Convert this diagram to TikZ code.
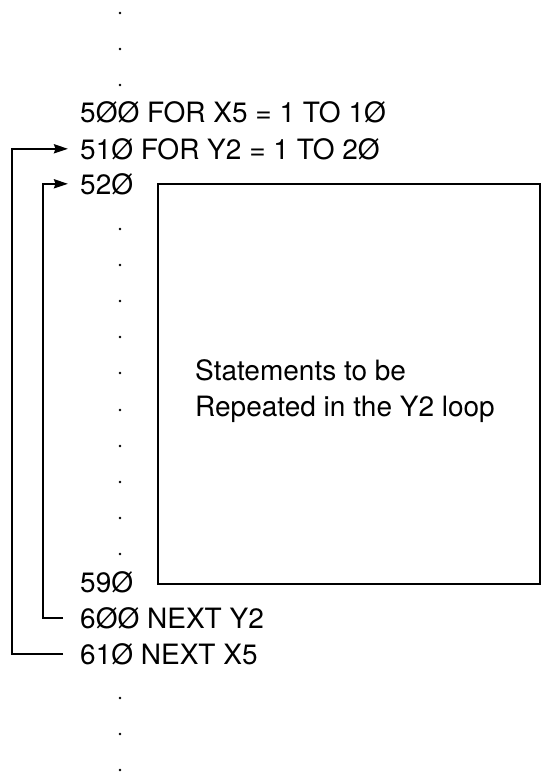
\documentclass[tikz,border=0pt]{standalone}
\usepackage{fontspec}
\setmainfont{TeX Gyre Heros}
\usetikzlibrary{arrows.meta}
\begin{document}
\begin{tikzpicture}[x=1pt,y=-1pt,
  line/.style={line width=2pt},
  code/.style={anchor=base west, inner sep=0pt, font=\fontsize{28}{32}\selectfont},
  arr/.style={line, -{Stealth[length=14pt,width=9pt,inset=1.5pt]}}]
\useasboundingbox (0,0) rectangle (543,772);
% code lines
\node[code] (l500) at (80,122) {5ØØ FOR X5 = 1 TO 1Ø};
\node[code] (l510) at (80,159) {51Ø FOR Y2 = 1 TO 2Ø};
\node[code] (l520) at (80,194) {52Ø};
\node[code] (l590) at (80,592) {59Ø};
\node[code] (l600) at (80,628) {6ØØ NEXT Y2};
\node[code] (l610) at (80,664) {61Ø NEXT X5};
% box with the repeated statements
\node[draw, line, minimum width=382pt, minimum height=400pt, anchor=north west, inner sep=0pt] (box) at (157,183) {};
\node[code] (s1) at (195,380) {Statements to be};
\node[code] (s2) at (195,416) {Repeated in the Y2 loop};
% ellipsis dots
\foreach \y in {13,49,85,229,265,301,337,373,410,446,482,518,554,698,734,770}
  \fill (120,\y) circle (1.4pt);
% loop connectors
\draw[arr] ([xshift=-17pt]l610.west) -- ++(-51,0) |- ([xshift=-12pt]l510.west);
\draw[arr] ([xshift=-17pt]l600.west) -- ++(-20,0) |- ([xshift=-12pt]l520.west);
\end{tikzpicture}
\end{document}
